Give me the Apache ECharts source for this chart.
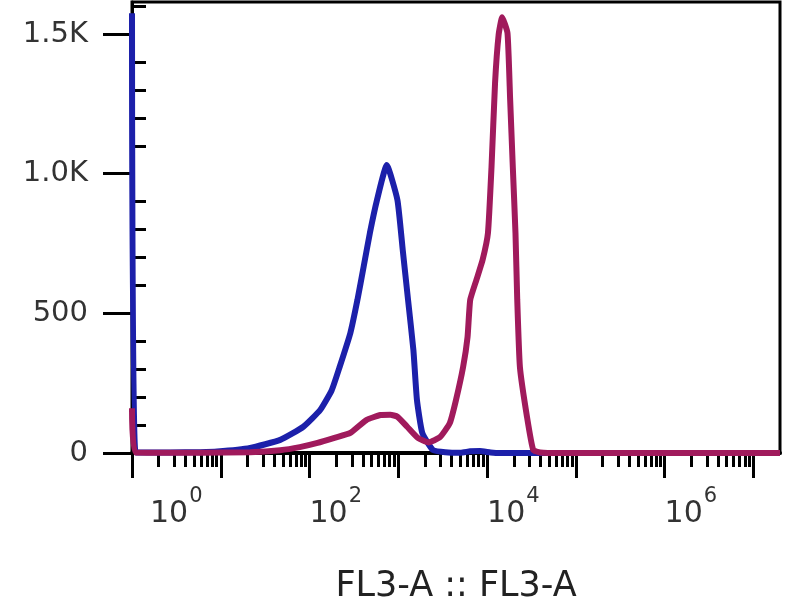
<!DOCTYPE html>
<html>
<head>
<meta charset="utf-8">
<title>FL3-A histogram</title>
<script src="https://cdn.jsdelivr.net/npm/echarts@6/dist/echarts.min.js"></script>
<style>
  html, body { margin: 0; padding: 0; background: #fff; }
  #chart { width: 800px; height: 600px; }
</style>
</head>
<body>
<div id="chart"></div>
<script>
// x is in decades (log10 of FL3-A), y is the event count
const blueDecade = [0, 0.04, 0.43, 0.77, 0.96, 1.33, 1.67, 1.93, 2.12, 2.25, 2.34, 2.46, 2.54, 2.61, 2.68, 2.76, 2.87, 2.99, 3.05, 3.11, 3.17, 3.21, 3.27, 3.39, 3.53, 3.70, 3.81, 3.92, 4.04, 4.15, 7.3]
const blueCount = [1575, 2, 2, 3, 5, 18, 47, 94, 154, 225, 309, 430, 549, 668, 788, 906, 1031, 906, 727, 548, 369, 190, 72, 11, 3, 1, 6, 7, 2, 0, 0]

const redDecade = [0, 0.04, 0.77, 1.33, 1.67, 1.89, 2.09, 2.29, 2.46, 2.64, 2.80, 2.91, 2.99, 3.10, 3.22, 3.34, 3.47, 3.58, 3.65, 3.73, 3.78, 3.81, 3.88, 3.95, 4.01, 4.05, 4.09, 4.13, 4.17, 4.23, 4.26, 4.29, 4.32, 4.34, 4.37, 4.45, 4.52, 4.60, 4.82, 7.3]
const redCount = [160, 2, 1, 3, 10, 21, 36, 55, 72, 118, 136, 137, 130, 94, 54, 38, 57, 107, 190, 308, 415, 548, 620, 692, 788, 1024, 1325, 1497, 1560, 1504, 1265, 1024, 788, 548, 308, 129, 11, 2, 0, 0]

const xDecades = [0, 1, 2, 3, 4, 5, 6, 7]
const xLabelDecades = [0, 2, 4, 6]
const minorMultipliers = [2, 3, 4, 5, 6, 7, 8, 9]
const yMajorTicks = [0, 500, 1000, 1500]
const yMinorTicks = [100, 200, 300, 400, 600, 700, 800, 900, 1100, 1200, 1300, 1400, 1600]

const X_MAX = 7.3
const Y_MAX = 1615
const FONT = 'DejaVu Sans'

// log-spaced minor ticks inside each decade
const xMinorTicks = []
xDecades.forEach(d => {
  minorMultipliers.forEach(m => {
    const v = d + Math.log10(m)
    if (v <= X_MAX) xMinorTicks.push(v)
  })
})

const pairs = (xs, ys) => xs.map((x, i) => [x, ys[i]])

const chart = echarts.init(document.getElementById('chart'))

const baseX = {
  type: 'value',
  min: 0,
  max: X_MAX,
  splitLine: { show: false }
}
const baseY = {
  type: 'value',
  min: 0,
  max: Y_MAX,
  splitLine: { show: false }
}

const opt = {
  animation: false,
  backgroundColor: '#fff',
  grid: {
    left: 132,
    right: 20,
    top: 2,
    bottom: 147,
    outerBoundsMode: 'none',
    containLabel: false,
    show: true,
    borderColor: '#000',
    borderWidth: 3
  },
  xAxis: [
    {
      ...baseX,
      position: 'bottom',
      axisLine: { show: true, lineStyle: { color: '#000', width: 4 } },
      axisTick: { show: true, customValues: xDecades, length: 25, lineStyle: { color: '#000', width: 3 } },
      axisLabel: {
        show: true,
        customValues: xLabelDecades,
        margin: 46,
        align: 'left',
        formatter: v => (v === 0 ? '{f|10}{s|' + v + '}' : '{b|10}{s|' + v + '}'),
        rich: {
          b: { fontFamily: FONT, fontSize: 30, lineHeight: 30, color: '#333', verticalAlign: 'bottom' },
          f: { fontFamily: FONT, fontSize: 30, lineHeight: 30, color: '#333', verticalAlign: 'bottom', padding: [0, 0, 0, 18] },
          s: { fontFamily: FONT, fontSize: 21, lineHeight: 21, color: '#333', verticalAlign: 'bottom', padding: [0, 0, 22, 1] }
        }
      },
      name: 'FL3-A :: FL3-A',
      nameLocation: 'middle',
      nameGap: 116,
      nameTextStyle: { fontFamily: FONT, fontSize: 35, color: '#222' }
    },
    {
      ...baseX,
      position: 'bottom',
      axisLine: { show: false },
      axisTick: { show: true, customValues: xMinorTicks, length: 14, lineStyle: { color: '#000', width: 3 } },
      axisLabel: { show: false }
    }
  ],
  yAxis: [
    {
      ...baseY,
      axisLine: { show: true, lineStyle: { color: '#000', width: 3 } },
      axisTick: { show: true, customValues: yMajorTicks, length: 29, lineStyle: { color: '#000', width: 3 } },
      axisLabel: {
        show: true,
        customValues: yMajorTicks,
        margin: 44,
        fontFamily: FONT,
        fontSize: 29,
        color: '#333',
        formatter: v => (v >= 1000 ? (v / 1000).toFixed(1) + 'K' : String(v))
      }
    },
    {
      ...baseY,
      axisLine: { show: false },
      axisTick: { show: true, customValues: yMinorTicks, length: 14, lineStyle: { color: '#000', width: 3 } },
      axisLabel: { show: false }
    }
  ],
  series: [
    {
      name: 'control',
      type: 'line',
      data: pairs(blueDecade, blueCount),
      showSymbol: false,
      clip: false,
      smooth: 0.15,
      lineStyle: { color: '#1c20aa', width: 6 },
      z: 3
    },
    {
      name: 'stained',
      type: 'line',
      data: pairs(redDecade, redCount),
      showSymbol: false,
      clip: false,
      smooth: 0.15,
      lineStyle: { color: '#a01a5c', width: 6 },
      z: 4
    }
  ]
}

chart.setOption(opt)
</script>
</body>
</html>
